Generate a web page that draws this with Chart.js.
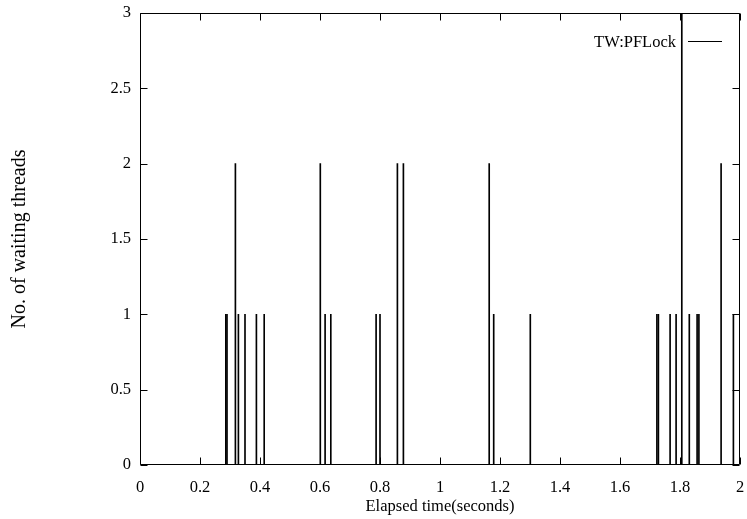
<!DOCTYPE html>
<html>
<head>
<meta charset="utf-8">
<script src="https://cdn.jsdelivr.net/npm/chart.js@4/dist/chart.umd.min.js"></script>
<style>
  html, body { margin: 0; padding: 0; background: #fff; }
  #wrap { position: relative; width: 747px; height: 519px; }
</style>
</head>
<body>
<div id="wrap"><canvas id="chart"></canvas></div>
<script>
// impulses: elapsed time (s) -> no. of waiting threads
const times = [0.286, 0.290, 0.318, 0.328, 0.350, 0.388, 0.414, 0.601, 0.617, 0.636,
               0.787, 0.800, 0.858, 0.878, 1.164, 1.179, 1.301, 1.723, 1.728, 1.767,
               1.787, 1.806, 1.831, 1.857, 1.863, 1.937, 1.978];
const waiting = [1, 1, 2, 1, 1, 1, 1, 2, 1, 1,
                 1, 1, 2, 2, 2, 1, 1, 1, 1, 1,
                 1, 3, 1, 1, 1, 2, 1];
const seriesLabel = "TW:PFLock";
const xTitle = "Elapsed time(seconds)";
const yTitle = "No. of waiting threads";

const FONT = '"Liberation Serif", "Times New Roman", serif';

// gnuplot-ish frame: box, inward ticks on all 4 sides, key top right
const framePlugin = {
  id: "frame",
  afterDatasetsDraw(chart) {
    const { ctx, chartArea: a, scales: { x, y } } = chart;
    const T = 7;
    ctx.save();
    ctx.strokeStyle = "#000";
    ctx.lineWidth = 1;
    ctx.beginPath();
    const L = Math.round(a.left) + 0.5, R = Math.round(a.right) - 0.5;
    const Tp = Math.round(a.top) + 0.5, B = Math.round(a.bottom) - 0.5;
    ctx.rect(L, Tp, R - L, B - Tp);
    for (const t of x.ticks) {
      const px = Math.round(x.getPixelForValue(t.value)) + 0.5;
      ctx.moveTo(px, B); ctx.lineTo(px, B - T);
      ctx.moveTo(px, Tp); ctx.lineTo(px, Tp + T);
    }
    for (const t of y.ticks) {
      const py = Math.round(y.getPixelForValue(t.value)) + 0.5;
      ctx.moveTo(L, py); ctx.lineTo(L + T, py);
      ctx.moveTo(R, py); ctx.lineTo(R - T, py);
    }
    ctx.stroke();

    // key
    ctx.font = "16.5px " + FONT;
    ctx.fillStyle = "#000";
    ctx.textAlign = "right";
    ctx.textBaseline = "alphabetic";
    ctx.fillText(seriesLabel, a.right - 64, a.top + 34);
    ctx.beginPath();
    ctx.moveTo(a.right - 52, a.top + 28.5);
    ctx.lineTo(a.right - 18, a.top + 28.5);
    ctx.stroke();
    ctx.restore();
  },
};

// keep the plot box where gnuplot put it, ignore label overhang
function noPad(s) {
  s.paddingLeft = 0; s.paddingRight = 0; s.paddingTop = 0; s.paddingBottom = 0;
}
const fmt = (v) => String(Math.round(v * 10) / 10);

Chart.defaults.font.family = FONT;
Chart.defaults.font.size = 16.5;
Chart.defaults.color = "#000";

new Chart(document.getElementById("chart"), {
  type: "bar",
  data: {
    datasets: [{
      label: seriesLabel,
      data: times.map((t, i) => ({ x: t, y: waiting[i] })),
      backgroundColor: "#000",
      borderWidth: 0,
      barThickness: 1,
    }],
  },
  options: {
    responsive: true,
    maintainAspectRatio: false,
    animation: false,
    layout: { padding: { top: 13, right: 7, left: 0, bottom: 0 } },
    plugins: { legend: { display: false }, tooltip: { enabled: false } },
    scales: {
      x: {
        type: "linear",
        min: 0, max: 2,
        offset: false,
        grid: { display: false, drawTicks: false },
        border: { display: false },
        ticks: { stepSize: 0.2, padding: 13, maxRotation: 0, autoSkip: false, callback: fmt },
        title: { display: true, text: xTitle, padding: { top: 0, bottom: 2 } },
        afterFit: (s) => { s.height = 54; noPad(s); },
      },
      y: {
        min: 0, max: 3,
        grid: { display: false, drawTicks: false },
        border: { display: false },
        ticks: { stepSize: 0.5, padding: 9, callback: fmt },
        title: { display: true, text: yTitle, font: { size: 20 }, padding: { top: 8, bottom: 0 } },
        afterFit: (s) => { s.width = 140; noPad(s); },
      },
    },
  },
  plugins: [framePlugin],
});
</script>
</body>
</html>
